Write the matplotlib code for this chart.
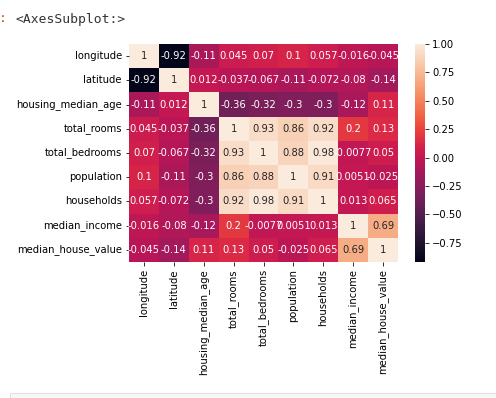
import numpy as np
import matplotlib
matplotlib.use("Agg")
import matplotlib.pyplot as plt
import seaborn as sns
import pandas as pd

labels = ["longitude", "latitude", "housing_median_age", "total_rooms",
          "total_bedrooms", "population", "households", "median_income",
          "median_house_value"]
longitude = [1, -0.92, -0.11, 0.045, 0.07, 0.1, 0.057, -0.016, -0.045]
latitude = [-0.92, 1, 0.012, -0.037, -0.067, -0.11, -0.072, -0.08, -0.14]
housing_median_age = [-0.11, 0.012, 1, -0.36, -0.32, -0.3, -0.3, -0.12, 0.11]
total_rooms = [0.045, -0.037, -0.36, 1, 0.93, 0.86, 0.92, 0.2, 0.13]
total_bedrooms = [0.07, -0.067, -0.32, 0.93, 1, 0.88, 0.98, -0.0077, 0.05]
population = [0.1, -0.11, -0.3, 0.86, 0.88, 1, 0.91, 0.0051, -0.025]
households = [0.057, -0.072, -0.3, 0.92, 0.98, 0.91, 1, 0.013, 0.065]
median_income = [-0.016, -0.08, -0.12, 0.2, -0.0077, 0.0051, 0.013, 1, 0.69]
median_house_value = [-0.045, -0.14, 0.11, 0.13, 0.05, -0.025, 0.065, 0.69, 1]

corr = pd.DataFrame([longitude, latitude, housing_median_age, total_rooms,
                     total_bedrooms, population, households, median_income,
                     median_house_value], index=labels, columns=labels)

fig = plt.figure(figsize=(496/72, 398/72), dpi=72)
ax = fig.add_axes([129/496, 1-262/398, (398-129)/496, (262-44)/398])
cax = fig.add_axes([415/496, 1-262/398, 10/496, (262-44)/398])
sns.heatmap(corr, annot=True, ax=ax, cbar_ax=cax)
ax.tick_params(labelsize=10)
cax.tick_params(labelsize=10)

fig.text(15/496, 1-19/398, "<AxesSubplot:>", family="DejaVu Sans Mono",
         fontsize=13, va="center", ha="left", color="#333333")
fig.text(-1/496, 1-19/398, ":", family="DejaVu Sans Mono", fontsize=13,
         va="center", ha="left", color="#d84a1b")
fig.add_artist(plt.Rectangle((10/496, -0.05), 1.0, (0.05 + 5/398),
                             transform=fig.transFigure, facecolor="#f7f7f7",
                             edgecolor="#e0e0e0", lw=1))
fig.savefig("out.png", dpi=72)
